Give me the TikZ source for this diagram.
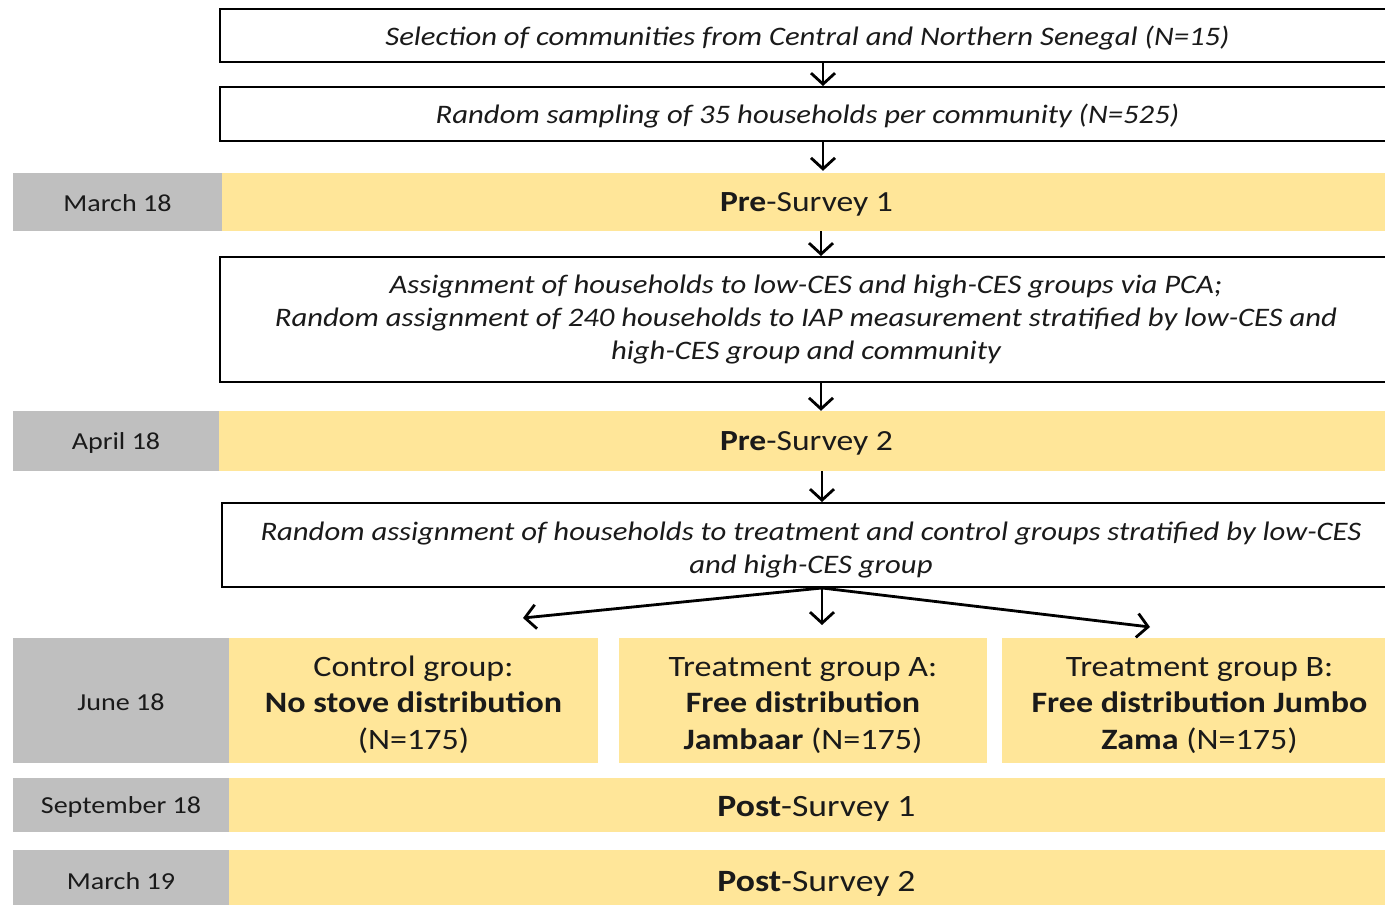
\documentclass[tikz,border=0pt]{standalone}
\usepackage{fontspec}
\setmainfont{Carlito}[FakeStretch=1.15]
\usetikzlibrary{arrows.meta,calc}
\definecolor{gr}{HTML}{BFBFBF}
\definecolor{ye}{HTML}{FFE699}
\definecolor{tx}{HTML}{1A1A1A}
\newcommand\lowtext[2]{\raisebox{-#1}[\height][\depth]{#2}}
\begin{document}
\begin{tikzpicture}[x=1pt,y=-1pt,
 wbox/.style={draw=black,line width=2pt,fill=white,inner sep=0pt,text=tx,font=\fontsize{26.7}{33}\selectfont\itshape,align=center},
 gbox/.style={fill=gr,inner sep=0pt,text=tx,font=\fontsize{24.4}{28}\selectfont},
 ybox/.style={fill=ye,inner sep=0pt,text=tx,font=\fontsize{29.2}{34}\selectfont},
 ybig/.style={ybox,font=\fontsize{31}{34}\selectfont},
 grp/.style={fill=ye,inner sep=0pt,text=tx,font=\fontsize{29.6}{36.5}\selectfont,align=center},
 arr/.style={line width=2.8pt,-{Straight Barb[length=11pt,width=24pt]}}
]
\useasboundingbox (0,0) rectangle (1385,905);
\clip (0,0) rectangle (1385,905);
\fill[white] (0,0) rectangle (1385,905);

\node[wbox,minimum width=1175,minimum height=53] (b1) at (807.5,35.5) {\lowtext{3pt}{Selection of communities from Central and Northern Senegal (N=15)}};
\node[wbox,minimum width=1175,minimum height=54] (b2) at (807.5,114) {\lowtext{2pt}{Random sampling of 35 households per community (N=525)}};

\node[gbox,minimum width=209,minimum height=58] (m18) at (117.5,202) {\lowtext{1pt}{March 18}};
\node[ybox,minimum width=1169,minimum height=58] (p1) at (806.5,202) {\lowtext{2.5pt}{\textbf{Pre}-Survey 1}};

\node[wbox,minimum width=1172,minimum height=125] (b3) at (806,319.5) {Assignment of households to low-CES and high-CES groups via PCA;\\Random assignment of 240 households to IAP measurement stratified by low-CES and\\high-CES group and community};

\node[gbox,minimum width=206,minimum height=60] (a18) at (116,441) {\lowtext{1.5pt}{April 18}};
\node[ybox,minimum width=1175,minimum height=60] (p2) at (806.5,441) {\lowtext{2.5pt}{\textbf{Pre}-Survey 2}};

\node[wbox,minimum width=1178,minimum height=84] (b4) at (811,545) {\rule{0pt}{28pt}Random assignment of households to treatment and control groups stratified by low-CES\\and high-CES group};

\node[gbox,minimum width=216,minimum height=125] (j18) at (121,700.5) {\lowtext{1.5pt}{June 18}};
\node[grp,minimum width=369,minimum height=125] (gc) at (413.5,700.5) {\rule{0pt}{28.5pt}Control group:\\\textbf{No stove distribution}\\(N=175)};
\node[grp,minimum width=368,minimum height=125] (ga) at (803,700.5) {\rule{0pt}{28.5pt}Treatment group A:\\\textbf{Free distribution}\\\textbf{Jambaar} (N=175)};
\node[grp,minimum width=395,minimum height=125] (gb) at (1199.5,700.5) {\rule{0pt}{28.5pt}Treatment group B:\\\textbf{Free distribution Jumbo}\\\textbf{Zama} (N=175)};

\node[gbox,minimum width=216,minimum height=54] (s18) at (121,805) {\lowtext{2pt}{September 18}};
\node[ybig,minimum width=1175,minimum height=54] (ps1) at (816.5,805) {\lowtext{4pt}{\textbf{Post}-Survey 1}};

\node[gbox,minimum width=216,minimum height=60] (m19) at (121,880) {\lowtext{1.5pt}{March 19}};
\node[ybig,minimum width=1175,minimum height=60] (ps2) at (816.5,880) {\lowtext{4pt}{\textbf{Post}-Survey 2}};

\coordinate (xa) at (823,0);
\coordinate (xb) at (821,0);
\coordinate (xc) at (822,0);
\coordinate (fl) at (523,618);
\coordinate (fm) at (822,625);
\coordinate (fr) at (1150,627);

\draw[arr] (b1.south -| xa) -- (b2.north -| xa);
\draw[arr] (b2.south -| xa) -- ($(p1.north -| xa)+(0,-2)$);
\draw[arr] (p1.south -| xb) -- (b3.north -| xb);
\draw[arr] (b3.south -| xb) -- (p2.north -| xb);
\draw[arr] (p2.south -| xc) -- (b4.north -| xc);
\draw[arr] (b4.south -| xc) -- (fl);
\draw[arr] (b4.south -| xc) -- (fm);
\draw[arr] (b4.south -| xc) -- (fr);
\end{tikzpicture}
\end{document}
